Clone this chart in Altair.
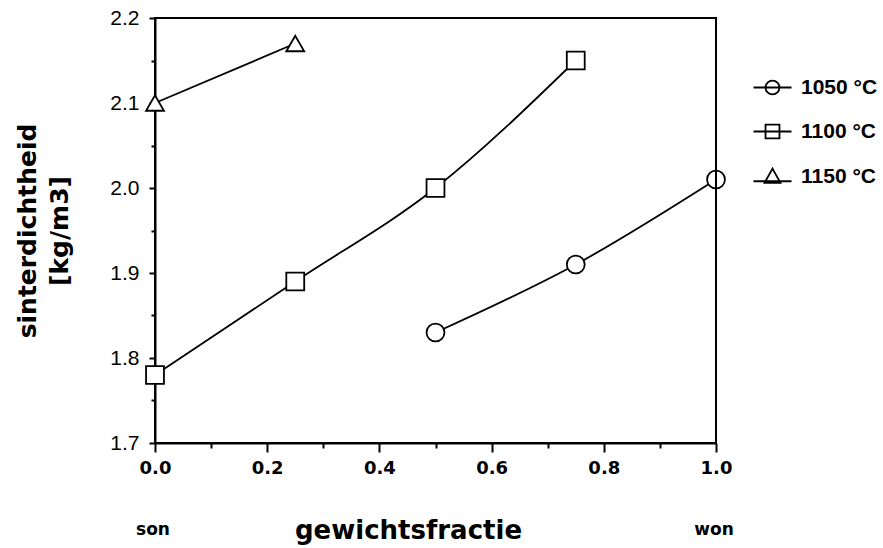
import altair as alt
import pandas as pd

# data
temps = ["1050 °C", "1100 °C", "1150 °C"]
x_1050 = [0.5, 0.75, 1.0]
y_1050 = [1.83, 1.91, 2.01]
x_1100 = [0.0, 0.25, 0.5, 0.75]
y_1100 = [1.78, 1.89, 2.00, 2.15]
x_1150 = [0.0, 0.25]
y_1150 = [2.10, 2.17]

end_labels = ["son", "won"]
end_x = [0.0, 1.0]

rows = []
for t, xs, ys in zip(temps, [x_1050, x_1100, x_1150], [y_1050, y_1100, y_1150]):
    for a, b in zip(xs, ys):
        rows.append({"frac": a, "dens": b, "temp": t})
df = pd.DataFrame(rows)
df["temp_leg"] = df["temp"]
ends = pd.DataFrame({"frac": end_x, "label": end_labels})

W, H = 561, 425
FONT = "Liberation Sans"
TFONT = "DejaVu Sans"

y_vals = [round(1.7 + 0.05 * i, 2) for i in range(11)]
x_vals = [round(0.1 * i, 1) for i in range(11)]

x_scale = alt.Scale(domain=[0, 1], nice=False, zero=False)
y_scale = alt.Scale(domain=[1.7, 2.2], nice=False, zero=False)

x_axis = alt.Axis(
    values=x_vals,
    labelExpr="round(datum.value*10) % 2 == 0 ? format(datum.value, '.1f') : ''",
    tickSize={"condition": {"test": "round(datum.value*10) % 2 == 0", "value": 9}, "value": 5},
    tickWidth=2, tickColor="black", domainColor="black", domainWidth=2,
    labelFont=TFONT, labelFontSize=18, labelFontWeight="bold", labelPadding=7,
    labelFlush=False, labelColor="black", grid=False,
    title="gewichtsfractie", titleFont=TFONT, titleFontSize=26, titleFontWeight="bold",
    titleX=253, titleY=87, titleBaseline="middle", titleColor="black",
)
y_axis = alt.Axis(
    values=y_vals,
    labelExpr="round(datum.value*100) % 10 == 0 ? format(datum.value, '.1f') : ''",
    tickSize={"condition": {"test": "round(datum.value*100) % 10 == 0", "value": 6}, "value": 4},
    tickWidth=2, tickColor="black", domainColor="black", domainWidth=2,
    labelFont=FONT, labelFontSize=21, labelPadding=10, labelFlush=False,
    labelColor="black", grid=False,
    title=["sinterdichtheid", "[kg/m3]"], titleFont=TFONT, titleFontSize=25,
    titleFontWeight="bold", titleLineHeight=32, titleAngle=-90,
    titleX=-140, titleY=H / 2, titleBaseline="top", titleAlign="center", titleColor="black",
)

base = alt.Chart(df)
X = alt.X("frac:Q", scale=x_scale, axis=x_axis)
Y = alt.Y("dens:Q", scale=y_scale, axis=y_axis)

lines = base.mark_line(color="black", strokeWidth=1.8, interpolate="monotone").encode(
    x=X, y=Y, detail="temp:N",
)

points = base.mark_point(filled=True, fill="white", stroke="black", strokeWidth=1.8,
                         size=320, opacity=1).encode(
    x=X, y=Y,
    shape=alt.Shape("temp:N", scale=alt.Scale(domain=temps,
                    range=["circle", "square", "triangle-up"]), legend=None),
)

leg_paths = [
    "M-1.8,0 L1.8,0 M-0.66,0 A0.66,0.66 0 1,0 0.66,0 A0.66,0.66 0 1,0 -0.66,0",
    "M-1.8,0 L1.8,0 M-0.66,-0.66 L0.66,-0.66 L0.66,0.66 L-0.66,0.66 Z",
    "M-1.8,0.45 L1.8,0.45 M-0.75,0.6 L0.75,0.6 L0,-0.75 Z",
]
legend_layer = base.mark_point(filled=False, stroke="black", strokeWidth=1.8,
                               opacity=0, size=446).encode(
    x=X, y=Y,
    shape=alt.Shape("temp_leg:N", scale=alt.Scale(domain=temps, range=leg_paths),
                    legend=alt.Legend(title=None, orient="none", legendX=606, legendY=58,
                                      symbolOpacity=1, symbolStrokeColor="black",
                                      symbolFillColor="transparent", symbolStrokeWidth=1.8,
                                      symbolSize=446, rowPadding=21, labelOffset=17,
                                      labelFont=FONT, labelFontSize=21,
                                      labelFontWeight="bold", labelColor="black")),
)

# frame: top and right edges of the plot box
top_edge = alt.Chart(pd.DataFrame({"a": [0]})).mark_rule(color="black", strokeWidth=2).encode(
    x=alt.datum(0, scale=x_scale), x2=alt.datum(1), y=alt.datum(2.2, scale=y_scale),
)
right_edge = alt.Chart(pd.DataFrame({"a": [0]})).mark_rule(color="black", strokeWidth=2).encode(
    x=alt.datum(1, scale=x_scale), y=alt.datum(1.7, scale=y_scale), y2=alt.datum(2.2),
)

end_text = alt.Chart(ends).mark_text(font=TFONT, fontSize=17, fontWeight="bold",
                                     color="black", baseline="middle", align="center",
                                     dx=-2).encode(
    x=alt.X("frac:Q", scale=x_scale, axis=x_axis),
    y=alt.value(H + 87),
    text="label:N",
)

chart = alt.layer(lines, points, legend_layer, top_edge, right_edge, end_text).resolve_scale(
    shape="independent"
).properties(
    width=W, height=H,
    background="white",
    view=alt.ViewBackground(stroke="black", strokeWidth=2),
    autosize=alt.AutoSizeParams(type="none"),
    padding={"left": 155, "top": 18, "right": 167, "bottom": 105},
)

chart.save("out.html", embed_options={"renderer": "svg", "actions": False})
